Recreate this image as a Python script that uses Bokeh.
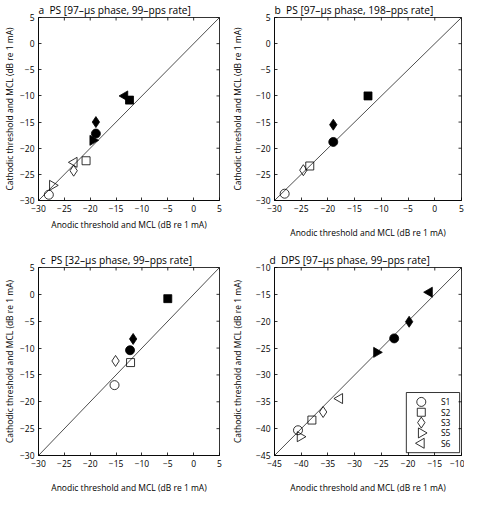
import math
from bokeh.plotting import figure
from bokeh.layouts import column, row
from bokeh.models import Range1d, FixedTicker, Slope, BoxAnnotation
from bokeh.core.properties import value
from bokeh.embed import file_html
from bokeh.resources import INLINE

FONT = "Open Sans"

# ---------------- data ----------------
# open markers = threshold, filled markers = MCL
a_subjects = ["S1", "S2", "S3", "S5", "S6"]
a_thr_anodic = [-28.0, -20.8, -23.2, -27.3, -23.1]
a_thr_cathodic = [-28.9, -22.4, -24.3, -27.1, -22.7]
a_mcl_anodic = [-18.9, -12.4, -18.9, -19.5, -13.3]
a_mcl_cathodic = [-17.2, -10.8, -15.0, -18.5, -10.0]

b_subjects = ["S1", "S2", "S3"]
b_thr_anodic = [-28.1, -23.4, -24.6]
b_thr_cathodic = [-28.7, -23.4, -24.2]
b_mcl_anodic = [-19.0, -12.5, -19.0]
b_mcl_cathodic = [-18.8, -10.0, -15.5]

c_subjects = ["S1", "S2", "S3"]
c_thr_anodic = [-15.3, -12.2, -15.1]
c_thr_cathodic = [-16.9, -12.7, -12.4]
c_mcl_anodic = [-12.3, -5.0, -11.7]
c_mcl_cathodic = [-10.4, -0.8, -8.3]

d_subjects = ["S1", "S2", "S3", "S5", "S6"]
d_thr_anodic = [-40.6, -38.0, -35.9, -40.2, -32.8]
d_thr_cathodic = [-40.3, -38.4, -36.9, -41.5, -34.4]
d_mcl_anodic = [-22.6, None, -19.8, -25.9, -16.0]
d_mcl_cathodic = [-23.2, None, -20.1, -25.8, -14.6]

legend_subjects = ["S1", "S2", "S3", "S5", "S6"]

ticks_abc = [-30, -25, -20, -15, -10, -5, 0, 5]
tick_labels_abc = ["\u221230", "\u221225", "\u221220", "\u221215", "\u221210", "\u22125", "0", "5"]
ticks_d = [-45, -40, -35, -30, -25, -20, -15, -10]
tick_labels_d = ["\u221245", "\u221240", "\u221235", "\u221230", "\u221225", "\u221220", "\u221215", "\u221210"]

titles = [
    "a\u00a0\u00a0PS [97\u2013\u03bcs phase, 99\u2013pps rate]",
    "b\u00a0\u00a0PS [97\u2013\u03bcs phase, 198\u2013pps rate]",
    "c\u00a0\u00a0PS [32\u2013\u03bcs phase, 99\u2013pps rate]",
    "d\u00a0\u00a0DPS [97\u2013\u03bcs phase, 99\u2013pps rate]",
]
xlabel = "Anodic threshold and MCL (dB re 1 mA)"
ylabel = "Cathodic threshold and MCL (dB re 1 mA)"

# ---------------- styles ----------------
marker_of = {"S1": "circle", "S2": "square", "S3": "diamond", "S5": "triangle", "S6": "triangle"}
angle_of = {"S1": 0.0, "S2": 0.0, "S3": 0.0, "S5": -math.pi / 2, "S6": math.pi / 2}
size_of = {"S1": 9, "S2": 8, "S3": 11, "S5": 10, "S6": 10}

FW, FH = 189, 191  # frame size in px


def style_axis(ax, ticks, labels, label_standoff):
    ax.ticker = FixedTicker(ticks=ticks)
    ax.major_label_overrides = {t: l for t, l in zip(ticks, labels)}
    ax.major_tick_in = 3
    ax.major_tick_out = 0
    ax.minor_tick_line_color = None
    ax.major_tick_line_color = "black"
    ax.major_tick_line_width = 0.8
    ax.axis_line_color = "black"
    ax.axis_line_width = 0.8
    ax.major_label_text_font = FONT
    ax.major_label_text_font_size = "8.5px"
    ax.major_label_text_color = "black"
    ax.major_label_standoff = 4
    ax.axis_label_text_font = FONT
    ax.axis_label_text_font_style = "normal"
    ax.axis_label_text_font_size = "8.5px"
    ax.axis_label_text_color = "black"
    ax.axis_label_standoff = label_standoff


def make_panel(title, lo, hi, ticks, labels, subj, thr_an, thr_cat, mcl_an, mcl_cat,
               bl, br, bt, bb, xstand, ystand, toff, legend=False):
    p = figure(width=bl + FW + br, height=bt + FH + bb,
               x_range=Range1d(lo, hi), y_range=Range1d(lo, hi),
               output_backend="svg", toolbar_location=None,
               min_border_left=bl, min_border_right=br,
               min_border_top=bt, min_border_bottom=bb,
               background_fill_color="white", border_fill_color="white")
    p.title.text = title
    p.title.align = "left"
    p.title.offset = toff
    p.title.standoff = 1
    p.title.text_font = FONT
    p.title.text_font_size = "10.2px"
    p.title.text_font_style = "normal"
    p.title.text_color = "black"
    p.grid.visible = False
    p.outline_line_color = "black"
    p.outline_line_width = 0.8

    style_axis(p.xaxis[0], ticks, labels, xstand)
    style_axis(p.yaxis[0], ticks, labels, ystand)
    p.xaxis[0].axis_label = xlabel
    p.yaxis[0].axis_label = ylabel

    # inward ticks on the top and right edges of the box (clipped to the frame)
    p.scatter(ticks, [hi] * len(ticks), marker="dash", angle=math.pi / 2, size=6,
              line_color="black", line_width=0.8)
    p.scatter([hi] * len(ticks), ticks, marker="dash", size=6,
              line_color="black", line_width=0.8)

    p.add_layout(Slope(gradient=1, y_intercept=0, line_color="black", line_width=0.7))

    for i, s in enumerate(subj):
        p.scatter([thr_an[i]], [thr_cat[i]], marker=marker_of[s], angle=angle_of[s],
                  size=size_of[s], fill_color=None, line_color="black", line_width=0.8)
        if mcl_an[i] is not None:
            p.scatter([mcl_an[i]], [mcl_cat[i]], marker=marker_of[s], angle=angle_of[s],
                      size=size_of[s], fill_color="black", line_color="black", line_width=0.8)

    if legend:
        span = hi - lo
        # legend layout as fractions of the frame (x from left, y from top)
        fx_box_l, fx_box_r, fy_box_t, fy_box_b = 0.705, 0.99, 0.665, 0.985
        fx_mark, fx_text = 0.785, 0.89
        row_top, row_step = 0.715, 0.055
        p.add_layout(BoxAnnotation(left=lo + fx_box_l * span, right=lo + fx_box_r * span,
                                   top=hi - fy_box_t * span, bottom=hi - fy_box_b * span,
                                   fill_alpha=0, line_color="black", line_width=0.8,
                                   line_alpha=1))
        for k, s in enumerate(legend_subjects):
            yk = hi - (row_top + k * row_step) * span
            p.scatter([lo + fx_mark * span], [yk], marker=marker_of[s], angle=angle_of[s],
                      size=size_of[s], fill_color=None, line_color="black", line_width=0.8)
        p.text(x=[lo + fx_text * span] * len(legend_subjects),
               y=[hi - (row_top + k * row_step) * span for k in range(len(legend_subjects))],
               text=legend_subjects, text_font=value(FONT), text_font_size="8.5px",
               text_baseline="middle", text_align="left", text_color="black")
    return p


pa = make_panel(titles[0], -30, 5, ticks_abc, tick_labels_abc, a_subjects,
                a_thr_anodic, a_thr_cathodic, a_mcl_anodic, a_mcl_cathodic,
                30, 9, 11, 38, 4, 2, 0)
pb = make_panel(titles[1], -30, 5, ticks_abc, tick_labels_abc, b_subjects,
                b_thr_anodic, b_thr_cathodic, b_mcl_anodic, b_mcl_cathodic,
                44, 3, 11, 38, 12, 10, 0)
pc = make_panel(titles[2], -30, 5, ticks_abc, tick_labels_abc, c_subjects,
                c_thr_anodic, c_thr_cathodic, c_mcl_anodic, c_mcl_cathodic,
                30, 9, 27, 37, 12, 2, 2)
pd = make_panel(titles[3], -45, -10, ticks_d, tick_labels_d, d_subjects,
                d_thr_anodic, d_thr_cathodic, d_mcl_anodic, d_mcl_cathodic,
                44, 3, 27, 37, 12, 10, -5, legend=True)

layout = column(row(pa, pb), row(pc, pd))
open("out.html", "w").write(file_html(layout, INLINE))
